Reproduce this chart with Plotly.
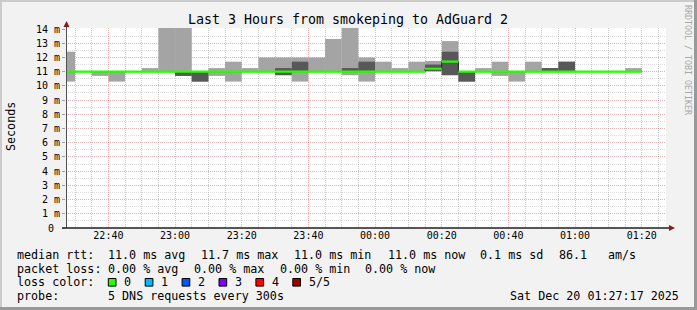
import plotly.graph_objects as go
import pandas as pd

# ---------------- data ----------------
bin_start = pd.date_range("2025-12-19 22:25", periods=35, freq="5min")
ping1  = [10.3, 11.0, 10.7, 10.3, 11.0, 11.0, 11.0, 10.7, 10.3, 10.7, 10.3, 11.0, 11.0, 10.75, 10.3, 11.0, 11.0, 10.75,
          10.3, 11.0, 11.0, 11.0, 11.0, 10.75, 10.3, 11.0, 10.7, 10.3, 11.0, 11.0, 11.0, 11.0, 11.0, 11.0, 11.0]
ping2  = [11.0, 11.0, 11.0, 11.0, 11.0, 11.0, 11.0, 10.7, 10.3, 11.0, 11.0, 11.0, 11.0, 10.75, 11.0, 11.0, 11.0, 11.0,
          11.0, 11.0, 11.0, 11.0, 11.05, 10.75, 10.3, 11.0, 11.0, 11.0, 11.0, 11.0, 11.0, 11.0, 11.0, 11.0, 11.0]
median = [11.0, 11.0, 11.0, 11.0, 11.0, 11.0, 11.0, 11.0, 11.0, 11.0, 11.0, 11.0, 11.0, 11.0, 11.0, 11.0, 11.0, 11.0,
          11.0, 11.0, 11.0, 11.0, 11.2, 11.7, 11.0, 11.0, 11.0, 11.0, 11.0, 11.0, 11.0, 11.0, 11.0, 11.0, 11.0]
ping4  = [11.0, 11.0, 11.0, 11.0, 11.0, 11.0, 11.0, 11.0, 11.0, 11.0, 11.0, 11.0, 11.0, 11.25, 11.7, 11.0, 11.0, 11.25,
          11.7, 11.0, 11.0, 11.0, 11.5, 12.4, 11.0, 11.0, 11.0, 11.0, 11.0, 11.25, 11.7, 11.0, 11.0, 11.0, 11.0]
ping5  = [12.4, 11.0, 11.0, 11.0, 11.0, 11.25, 14.8, 14.8, 11.0, 11.25, 11.7, 11.25, 12.0, 12.0, 12.0, 12.0, 13.3, 14.8,
          12.0, 11.7, 11.25, 11.7, 11.75, 13.15, 11.0, 11.25, 11.7, 11.0, 11.7, 11.25, 11.7, 11.0, 11.0, 11.0, 11.25]

y_ticks = list(range(0, 15))
y_tick_labels = ["0\u00a0"] + [f"{v} m" for v in range(1, 15)]

title_text = "Last 3 Hours from smokeping to AdGuard 2"
rtt_stats = ["11.0 ms avg", "11.7 ms max", "11.0 ms min", "11.0 ms now", "0.1 ms sd", "86.1", "am/s"]
loss_stats = ["0.00 % avg", "0.00 % max", "0.00 % min", "0.00 % now"]
loss_labels = ["0", "1", "2", "3", "4", "5/5"]
loss_colors = ["#26ff00", "#00b8ff", "#0059ff", "#7e00ff", "#ff0000", "#a10000"]
probe_text = "5 DNS requests every 300s"
stamp_text = "Sat Dec 20 01:27:17 2025"

# ---------------- geometry helpers ----------------
W, H = 697, 310
L, R, T, B = 66, 666, 28, 228
FONT = "DejaVu Sans Mono"


def px(x):
    return (x - L) / (R - L)


def py(y):
    return (B - y) / (B - T)


step = pd.Timedelta("5min")
centers = bin_start + step / 2
edges = list(bin_start) + [bin_start[-1] + step]
med_edges = median + [median[-1]]
sw = 0.075

fig = go.Figure()
fig.add_trace(go.Bar(x=centers, base=ping1, y=[b - a for a, b in zip(ping1, ping5)],
                     width=300000, marker=dict(color="#a4a4a4", line=dict(width=0)), hoverinfo="skip"))
fig.add_trace(go.Bar(x=centers, base=ping2, y=[b - a for a, b in zip(ping2, ping4)],
                     width=300000, marker=dict(color="#585858", line=dict(width=0)), hoverinfo="skip"))
fig.add_trace(go.Scatter(x=edges, y=med_edges, mode="lines", line=dict(color="#202020", width=1, shape="hv"),
                         hoverinfo="skip"))
fig.add_trace(go.Scatter(x=edges, y=[m - sw for m in med_edges], mode="lines",
                         line=dict(width=0, shape="hv"), hoverinfo="skip"))
fig.add_trace(go.Scatter(x=edges, y=[m + sw for m in med_edges], mode="lines", fill="tonexty",
                         fillcolor=loss_colors[0], line=dict(width=0, shape="hv"), hoverinfo="skip"))

fig.update_layout(
    width=W, height=H, margin=dict(l=L, r=W - R, t=T, b=H - B, pad=0),
    paper_bgcolor="#f2f2f2", plot_bgcolor="#ffffff", showlegend=False, barmode="overlay",
    font=dict(family=FONT, size=10, color="black"),
    title=dict(text=title_text, x=(348 - L) / (R - L), xref="paper", xanchor="center",
               y=1 - 19.5 / H, yanchor="middle",
               font=dict(family=FONT, size=13.3, color="black")),
)

MAJ_X = "rgba(222,80,80,0.42)"
MAJ_Y = "rgba(222,80,80,0.3)"
MIN = "rgba(143,143,143,0.45)"
fig.update_xaxes(
    type="date", range=["2025-12-19 22:27:17", "2025-12-20 01:27:17"],
    tick0="2025-12-19 22:40", dtick=1200000, tickformat="%H:%M", ticks="",
    showgrid=True, gridcolor=MAJ_X, griddash="1px,1px", gridwidth=1,
    minor=dict(tick0="2025-12-19 22:25", dtick=300000, showgrid=True, gridcolor=MIN,
               griddash="1px,1px", gridwidth=1),
    zeroline=False, showline=False, fixedrange=True,
    tickfont=dict(family=FONT, size=10, color="black"),
)
fig.update_yaxes(
    range=[0, 14.07], tickmode="array", tickvals=y_ticks, ticktext=y_tick_labels,
    ticks="outside", ticklen=3, tickcolor="#a0a0a0",
    showgrid=True, gridcolor=MAJ_Y, griddash="1px,1px", gridwidth=1,
    minor=dict(dtick=0.5, tick0=0, showgrid=True, gridcolor="rgba(143,143,143,0.3)",
               griddash="1px,1px", gridwidth=1),
    zeroline=False, showline=False, fixedrange=True,
    tickfont=dict(family=FONT, size=10, color="black"),
)

shapes = []
# frame shading
shapes += [
    dict(type="rect", xref="paper", yref="paper", x0=px(0), x1=px(W), y0=py(0), y1=py(2),
         fillcolor="#cbcbcb", line=dict(width=0), layer="below"),
    dict(type="rect", xref="paper", yref="paper", x0=px(0), x1=px(2), y0=py(0), y1=py(H),
         fillcolor="#cbcbcb", line=dict(width=0), layer="below"),
    dict(type="rect", xref="paper", yref="paper", x0=px(0), x1=px(W), y0=py(H - 3), y1=py(H),
         fillcolor="#999999", line=dict(width=0), layer="below"),
    dict(type="rect", xref="paper", yref="paper", x0=px(W - 3), x1=px(W), y0=py(0), y1=py(H),
         fillcolor="#999999", line=dict(width=0), layer="below"),
]
# axes with arrows
shapes += [
    dict(type="line", xref="paper", yref="paper", x0=px(66.5), x1=px(66.5), y0=py(228), y1=py(25),
         line=dict(color="#505050", width=1)),
    dict(type="line", xref="paper", yref="paper", x0=px(62), x1=px(670), y0=py(228), y1=py(228),
         line=dict(color="#1f1f1f", width=1.5)),
    dict(type="path", xref="paper", yref="paper",
         path=f"M {px(66.5)} {py(21)} L {px(63.5)} {py(27)} L {px(69.5)} {py(27)} Z",
         fillcolor="#8b1a1a", line=dict(width=0)),
    dict(type="path", xref="paper", yref="paper",
         path=f"M {px(675)} {py(228)} L {px(669)} {py(225)} L {px(669)} {py(231)} Z",
         fillcolor="#8b1a1a", line=dict(width=0)),
]

anns = []


def ann(text, x, y, size=11.7, xanchor="left", color="black", **kw):
    anns.append(dict(text=text, x=px(x), y=py(y), xref="paper", yref="paper", xanchor=xanchor,
                     yanchor="middle", showarrow=False, borderpad=0,
                     font=dict(family=FONT, size=size, color=color), **kw))


ann("Seconds", 11, 127, xanchor="center", textangle=-90)
ann("RRDTOOL / TOBI OETIKER", 688, 60, size=8.3, xanchor="center", color="#a8a8a8", textangle=90)

rows = [254.5, 268.5, 282.3, 296.2]
ann("median rtt:", 16, rows[0])
for t, x in zip(rtt_stats, [107.3, 200, 293.3, 386.7, 479.3, 558.3, 606.7]):
    ann(t, x, rows[0])
ann("packet loss:", 16, rows[1])
for t, x in zip(loss_stats, [107.3, 193.3, 279.3, 364]):
    ann(t, x, rows[1])
ann("loss color:", 16, rows[2])
for i, (lab, col) in enumerate(zip(loss_labels, loss_colors)):
    sx = 108.3 + 36.9 * i
    shapes.append(dict(type="rect", xref="paper", yref="paper", x0=px(sx), x1=px(sx + 7.7),
                       y0=py(rows[2] - 3.8), y1=py(rows[2] + 3.8), fillcolor=col,
                       line=dict(color="black", width=1)))
    ann(lab, sx + 15, rows[2])
ann("probe:", 16, rows[3])
ann(probe_text, 107.3, rows[3])
ann(stamp_text, 680, rows[3], xanchor="right")

fig.update_layout(shapes=shapes, annotations=anns)
fig.write_html("out.html")
